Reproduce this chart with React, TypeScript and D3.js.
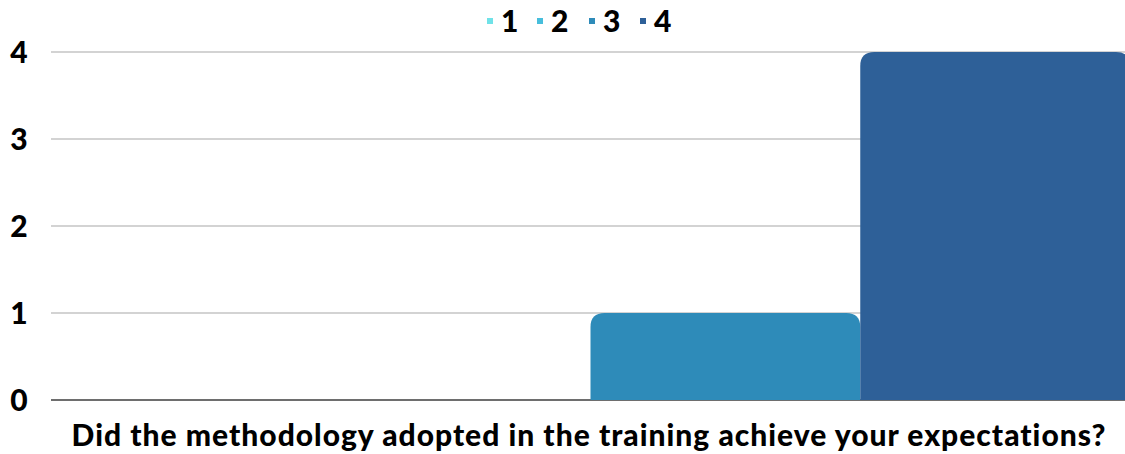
import React from "react";
import * as d3 from "d3";

const seriesNames = ["1", "2", "3", "4"];
const seriesValues = [0, 0, 1, 4];
const seriesColors = ["#70e2e8", "#47bedc", "#2e8bb9", "#2e6098"];
const categoryLabel = "Did the methodology adopted in the training achieve your expectations?";
const yTicks = [0, 1, 2, 3, 4];

const W = 1125;
const H = 454;
const margin = { left: 51, right: -5, top: 52, bottom: 54 };

function roundTopRect(x: number, y: number, w: number, h: number, r: number) {
  if (h <= 0) return "";
  const rr = Math.min(r, h, w / 2);
  return `M${x},${y + h}V${y + rr}Q${x},${y} ${x + rr},${y}H${x + w - rr}Q${x + w},${y} ${x + w},${y + rr}V${y + h}Z`;
}

export default function App() {
  const y = d3.scaleLinear().domain([0, 4]).range([H - margin.bottom, margin.top]);
  const x = d3
    .scaleBand<string>()
    .domain(seriesNames)
    .range([margin.left, W - margin.right])
    .padding(0);
  const font = "Lato, 'Open Sans', sans-serif";
  const legendX = [490, 540, 592, 643];
  return (
    <svg width={W} height={H} style={{ position: "absolute", left: 0, top: 0 }} fontFamily={font}>
      {yTicks.map((t) => (
        <g key={t}>
          <line
            x1={margin.left}
            x2={W}
            y1={y(t)}
            y2={y(t)}
            stroke={t === 0 ? "#6e6e6e" : "#c4c4c4"}
            strokeWidth={t === 0 ? 2 : 1.3}
          />
          <text x={19} y={y(t)} dy="0.36em" textAnchor="middle" fontSize={30} fontWeight={900} fill="#000">
            {t}
          </text>
        </g>
      ))}
      {seriesNames.map((s, i) => {
        const v = seriesValues[i];
        const top = y(v);
        const h = y(0) - top;
        return <path key={s} d={roundTopRect(x(s)!, top, x.bandwidth(), h, 14)} fill={seriesColors[i]} />;
      })}
      <text x={589} y={435} dy="0.36em" textAnchor="middle" fontSize={30} letterSpacing={1} fontWeight={900} fill="#000">
        {categoryLabel}
      </text>
      {seriesNames.map((s, i) => (
        <g key={"lg" + s}>
          <rect x={legendX[i] - 3} y={18} width={6} height={6} fill={seriesColors[i]} />
          <text x={legendX[i] + 11} y={21} dy="0.36em" fontSize={30} fontWeight={900} fill="#000">
            {s}
          </text>
        </g>
      ))}
    </svg>
  );
}
